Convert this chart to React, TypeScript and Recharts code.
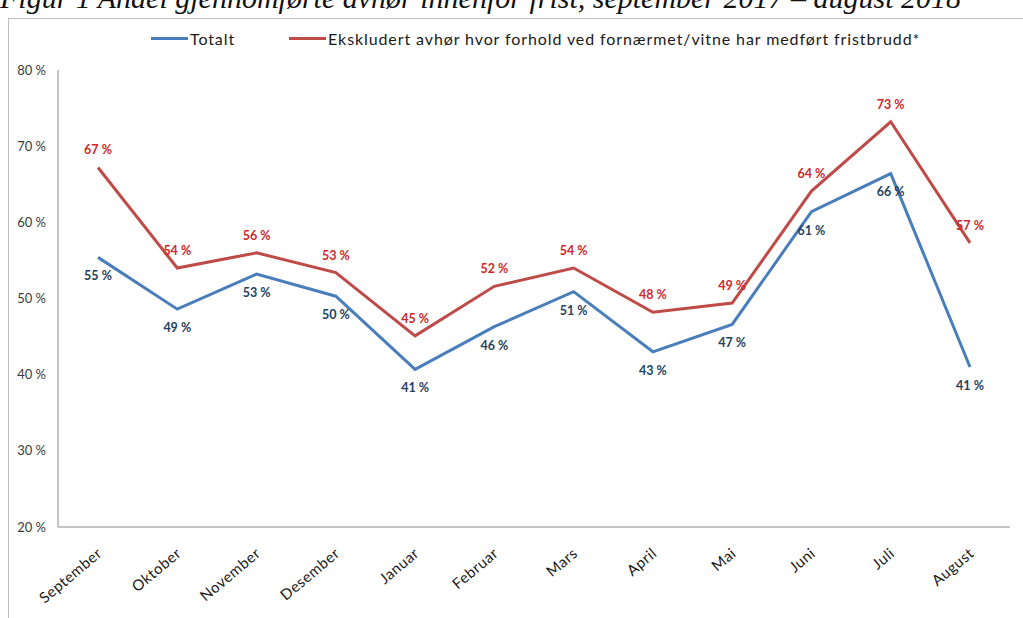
import { LineChart, Line, XAxis, YAxis, Legend, LabelList } from "recharts"

const title = "Figur 1 Andel gjennomførte avhør innenfor frist, september 2017 – august 2018"

const months = [
  "September", "Oktober", "November", "Desember", "Januar", "Februar",
  "Mars", "April", "Mai", "Juni", "Juli", "August",
]

const totalt = [55.4, 48.6, 53.2, 50.3, 40.7, 46.3, 50.9, 43.0, 46.6, 61.4, 66.4, 41.0]
const ekskludert = [67.2, 54.0, 56.0, 53.4, 45.1, 51.6, 54.0, 48.2, 49.4, 64.1, 73.2, 57.3]

const yTicks = [20, 30, 40, 50, 60, 70, 80]

const seriesOrder = ["totalt", "ekskludert"]
const seriesNames = {
  totalt: "Totalt",
  ekskludert: "Ekskludert avhør hvor forhold ved fornærmet/vitne har medført fristbrudd*",
}

const data = months.map((m, i) => ({
  month: m,
  totalt: totalt[i],
  ekskludert: ekskludert[i],
}))

const FONT = "Lato, 'Open Sans', sans-serif"
const BLUE = "#4a7ebb"
const RED = "#be4b48"

const pct = (v: any) => `${Math.round(Number(v))} %`

function MonthTick(props: any) {
  const { x, y, payload } = props
  const ax = x + 5
  const ay = y + 20
  return (
    <text
      x={ax}
      y={ay}
      transform={`rotate(-40, ${ax}, ${ay})`}
      textAnchor="end"
      fontSize={15}
      letterSpacing={0.5}
      fontFamily={FONT}
      fill="#1a1a1a"
    >
      {payload.value}
    </text>
  )
}

function LegendContent(props: any) {
  const items = [...(props.payload || [])].sort(
    (a: any, b: any) => seriesOrder.indexOf(a.dataKey) - seriesOrder.indexOf(b.dataKey)
  )
  return (
    <div
      style={{
        display: "flex", justifyContent: "flex-start", paddingLeft: 142,
        fontFamily: FONT, fontSize: 16, letterSpacing: 0.9, color: "#1a1a1a",
      }}
    >
      {items.map((it: any) => (
        <div key={it.value} style={{ display: "flex", alignItems: "center", marginRight: 54 }}>
          <span style={{ display: "inline-block", width: 37, height: 3, background: it.color, marginRight: 2 }} />
          <span>{it.value}</span>
        </div>
      ))}
    </div>
  )
}

export default function App() {
  return (
    <div style={{ position: "fixed", left: 0, top: 0, width: 1023, height: 618, overflow: "hidden", background: "#fff" }}>
      <div
        style={{
          position: "absolute", left: 0, top: -19, whiteSpace: "nowrap", lineHeight: "34px",
          fontFamily: "'Liberation Serif', serif", fontStyle: "italic", fontSize: 30, color: "#111",
        }}
      >
        {title}
      </div>
      <div style={{ position: "absolute", left: 8, top: 18, width: 1030, height: 620, border: "1px solid #bdbdbd", background: "#fff" }}>
        <LineChart width={1014} height={600} data={data} margin={{ top: 51, right: 13, bottom: 12, left: 9 }}>
          <XAxis
            dataKey="month"
            interval={0}
            height={80}
            padding={{ left: 40, right: 40 }}
            tickLine={false}
            stroke="#8c8c8c"
            tick={<MonthTick />}
          />
          <YAxis
            domain={[20, 80]}
            ticks={yTicks}
            width={40}
            tickLine={false}
            tickSize={0}
            tickMargin={12}
            stroke="#8c8c8c"
            tick={{ fill: "#3a3a3a", fontSize: 13, fontFamily: FONT }}
            tickFormatter={(v) => `${v} %`}
          />
          <Legend
            verticalAlign="middle"
            align="center"
            wrapperStyle={{ top: 10, left: 0, width: "100%" }}
            content={<LegendContent />}
          />
          <Line
            type="linear"
            dataKey="totalt"
            name={seriesNames.totalt}
            stroke={BLUE}
            strokeWidth={3}
            dot={false}
            isAnimationActive={false}
          >
            <LabelList
              dataKey="totalt"
              position="bottom"
              offset={14}
              formatter={pct}
              fill="#243f60"
              fontSize={12.5}
              fontWeight="bold"
              fontFamily={FONT}
            />
          </Line>
          <Line
            type="linear"
            dataKey="ekskludert"
            name={seriesNames.ekskludert}
            stroke={RED}
            strokeWidth={3}
            dot={false}
            isAnimationActive={false}
          >
            <LabelList
              dataKey="ekskludert"
              position="top"
              offset={13}
              formatter={pct}
              fill="#d0282c"
              fontSize={12.5}
              fontWeight="bold"
              fontFamily={FONT}
            />
          </Line>
        </LineChart>
      </div>
    </div>
  )
}
